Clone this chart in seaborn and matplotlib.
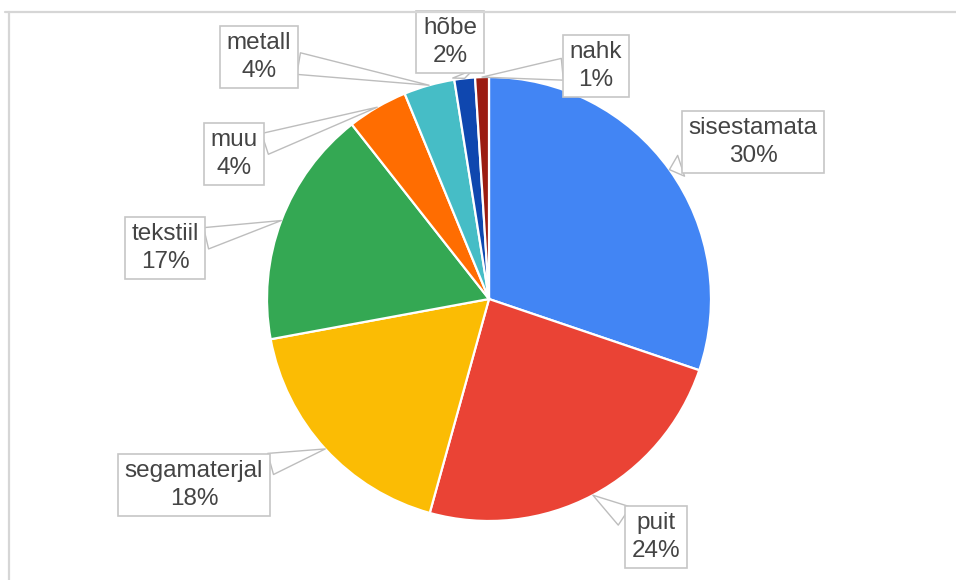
import matplotlib
matplotlib.use("Agg")
import matplotlib.pyplot as plt
from matplotlib.lines import Line2D
import numpy as np
import seaborn as sns

# ---- data ----
categories = ["sisestamata", "puit", "segamaterjal", "tekstiil", "muu", "metall", "hõbe", "nahk"]
values = [30.2, 24.1, 17.8, 17.3, 4.4, 3.7, 1.5, 1.0]
pct_labels = ["30%", "24%", "18%", "17%", "4%", "4%", "2%", "1%"]
colors = ["#4285f4", "#ea4335", "#fbbc04", "#34a853", "#ff6d01", "#46bdc6", "#0f47af", "#9b1c11"]

# label box centres (pixels, from top-left)
label_pos = [(753, 142), (656, 537), (194, 485), (165, 248), (234, 154), (259, 57), (450, 42), (596, 66)]

sns.set_theme(style="white")
plt.rcParams["font.family"] = ["Liberation Sans", "DejaVu Sans"]

W, H = 956, 580
fig = plt.figure(figsize=(W / 100, H / 100), dpi=100)
ax = fig.add_axes([0, 0, 1, 1])

cx, cy, R = 489, H - 299, 222
palette = sns.color_palette(colors)
wedges, _ = ax.pie(values, colors=palette, startangle=90, counterclock=False,
                   center=(cx, cy), radius=R,
                   wedgeprops=dict(edgecolor="white", linewidth=1.6))
ax.set_xlim(0, W)
ax.set_ylim(0, H)
ax.set_aspect("auto")
ax.axis("off")

for w, cat, pct, (px, py) in zip(wedges, categories, pct_labels, label_pos):
    th = np.deg2rad((w.theta1 + w.theta2) / 2)
    apex = (cx + R * np.cos(th), cy + R * np.sin(th))
    ax.annotate(f"{cat}\n{pct}", xy=apex, xytext=(px, H - py), textcoords="data",
                ha="center", va="center", fontsize=17.5, color="#444444",
                linespacing=1.3,
                bbox=dict(boxstyle="square,pad=0.28", fc="white", ec="#c6c6c6", lw=1.2),
                arrowprops=dict(arrowstyle="wedge,tail_width=0.9,shrink_factor=0.5",
                                fc="white", ec="#bdbdbd", lw=1.0,
                                shrinkA=0, shrinkB=0))

# chart frame
fig.add_artist(Line2D([5 / W, 1], [1 - 11.5 / H, 1 - 11.5 / H], transform=fig.transFigure,
                      color="#d6d6d6", lw=1.6))
fig.add_artist(Line2D([8.5 / W, 8.5 / W], [0, 1 - 11.5 / H], transform=fig.transFigure,
                      color="#d6d6d6", lw=1.6))

fig.savefig("out.png", dpi=100)
